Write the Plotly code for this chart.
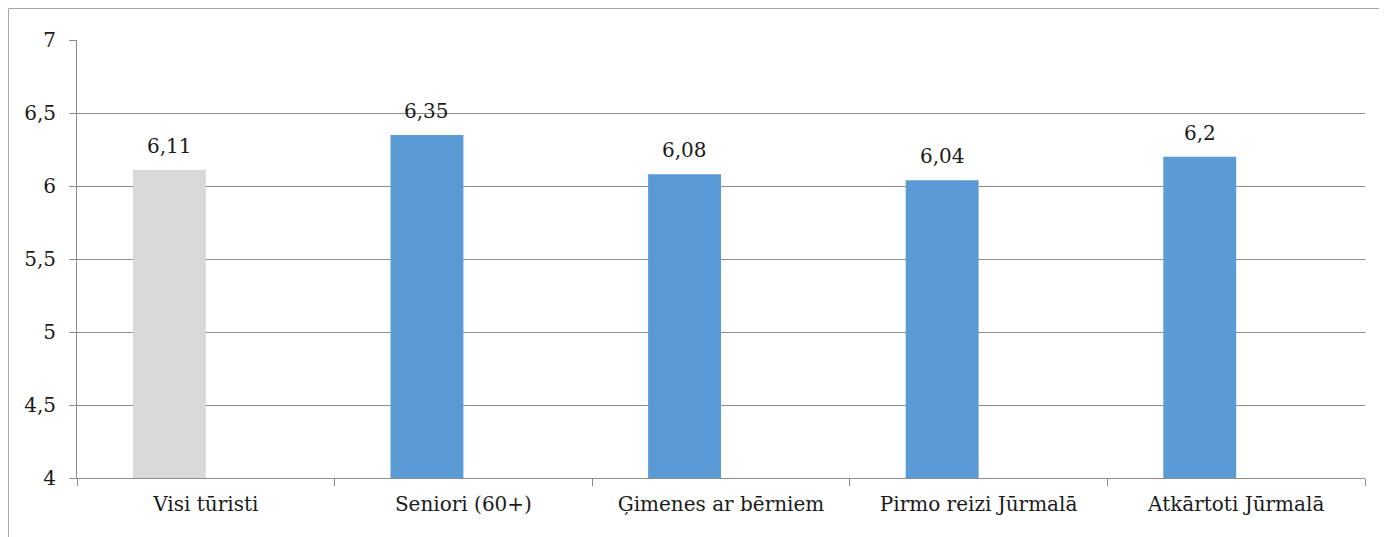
import plotly.graph_objects as go

categories = ["Visi tūristi", "Seniori (60+)", "Ģimenes ar bērniem", "Pirmo reizi Jūrmalā", "Atkārtoti Jūrmalā"]
values = [6.11, 6.35, 6.08, 6.04, 6.2]
bar_colors = ["#D9D9D9", "#5B9BD5", "#5B9BD5", "#5B9BD5", "#5B9BD5"]
y_ticks = [4, 4.5, 5, 5.5, 6, 6.5, 7]

FONT = "DejaVu Serif"
TXT = "#1a1a1a"
labels = [str(v).replace(".", ",") for v in values]

BAR_W = 0.283
fig = go.Figure()
fig.add_trace(go.Bar(
    x=categories, y=values, width=BAR_W, offset=-BAR_W,
    marker=dict(color=bar_colors, line=dict(width=0)),
    hoverinfo="skip",
))

for i, (v, t) in enumerate(zip(values, labels)):
    fig.add_annotation(x=i - BAR_W / 2, y=v, text=t, showarrow=False, yanchor="bottom",
                       yshift=10, font=dict(family=FONT, size=20, color=TXT))

fig.add_shape(type="rect", xref="paper", yref="paper",
              x0=-0.0532, x1=1.05, y0=-0.4, y1=1.0719,
              line=dict(color="#A6A6A6", width=1), fillcolor="rgba(0,0,0,0)")

fig.update_layout(
    width=1371, height=529,
    margin=dict(l=69, r=14, t=32, b=59),
    paper_bgcolor="white", plot_bgcolor="white",
    separators=", ",
    showlegend=False,
    font=dict(family=FONT, size=20, color=TXT),
    xaxis=dict(
        showline=True, linecolor="#8C8C8C", linewidth=1,
        ticks="outside", tickson="boundaries", ticklen=7, tickcolor="#8C8C8C",
        showgrid=False, tickfont=dict(family=FONT, size=20, color=TXT),
        ticklabelstandoff=8,
    ),
    yaxis=dict(
        range=[4, 7], tickvals=y_ticks,
        showline=True, linecolor="#8C8C8C", linewidth=1,
        ticks="outside", ticklen=7, tickcolor="#8C8C8C",
        showgrid=True, gridcolor="#8C8C8C", gridwidth=1,
        zeroline=False, tickfont=dict(family=FONT, size=20, color=TXT),
        ticklabelstandoff=9,
    ),
)

fig.write_html("out.html")
